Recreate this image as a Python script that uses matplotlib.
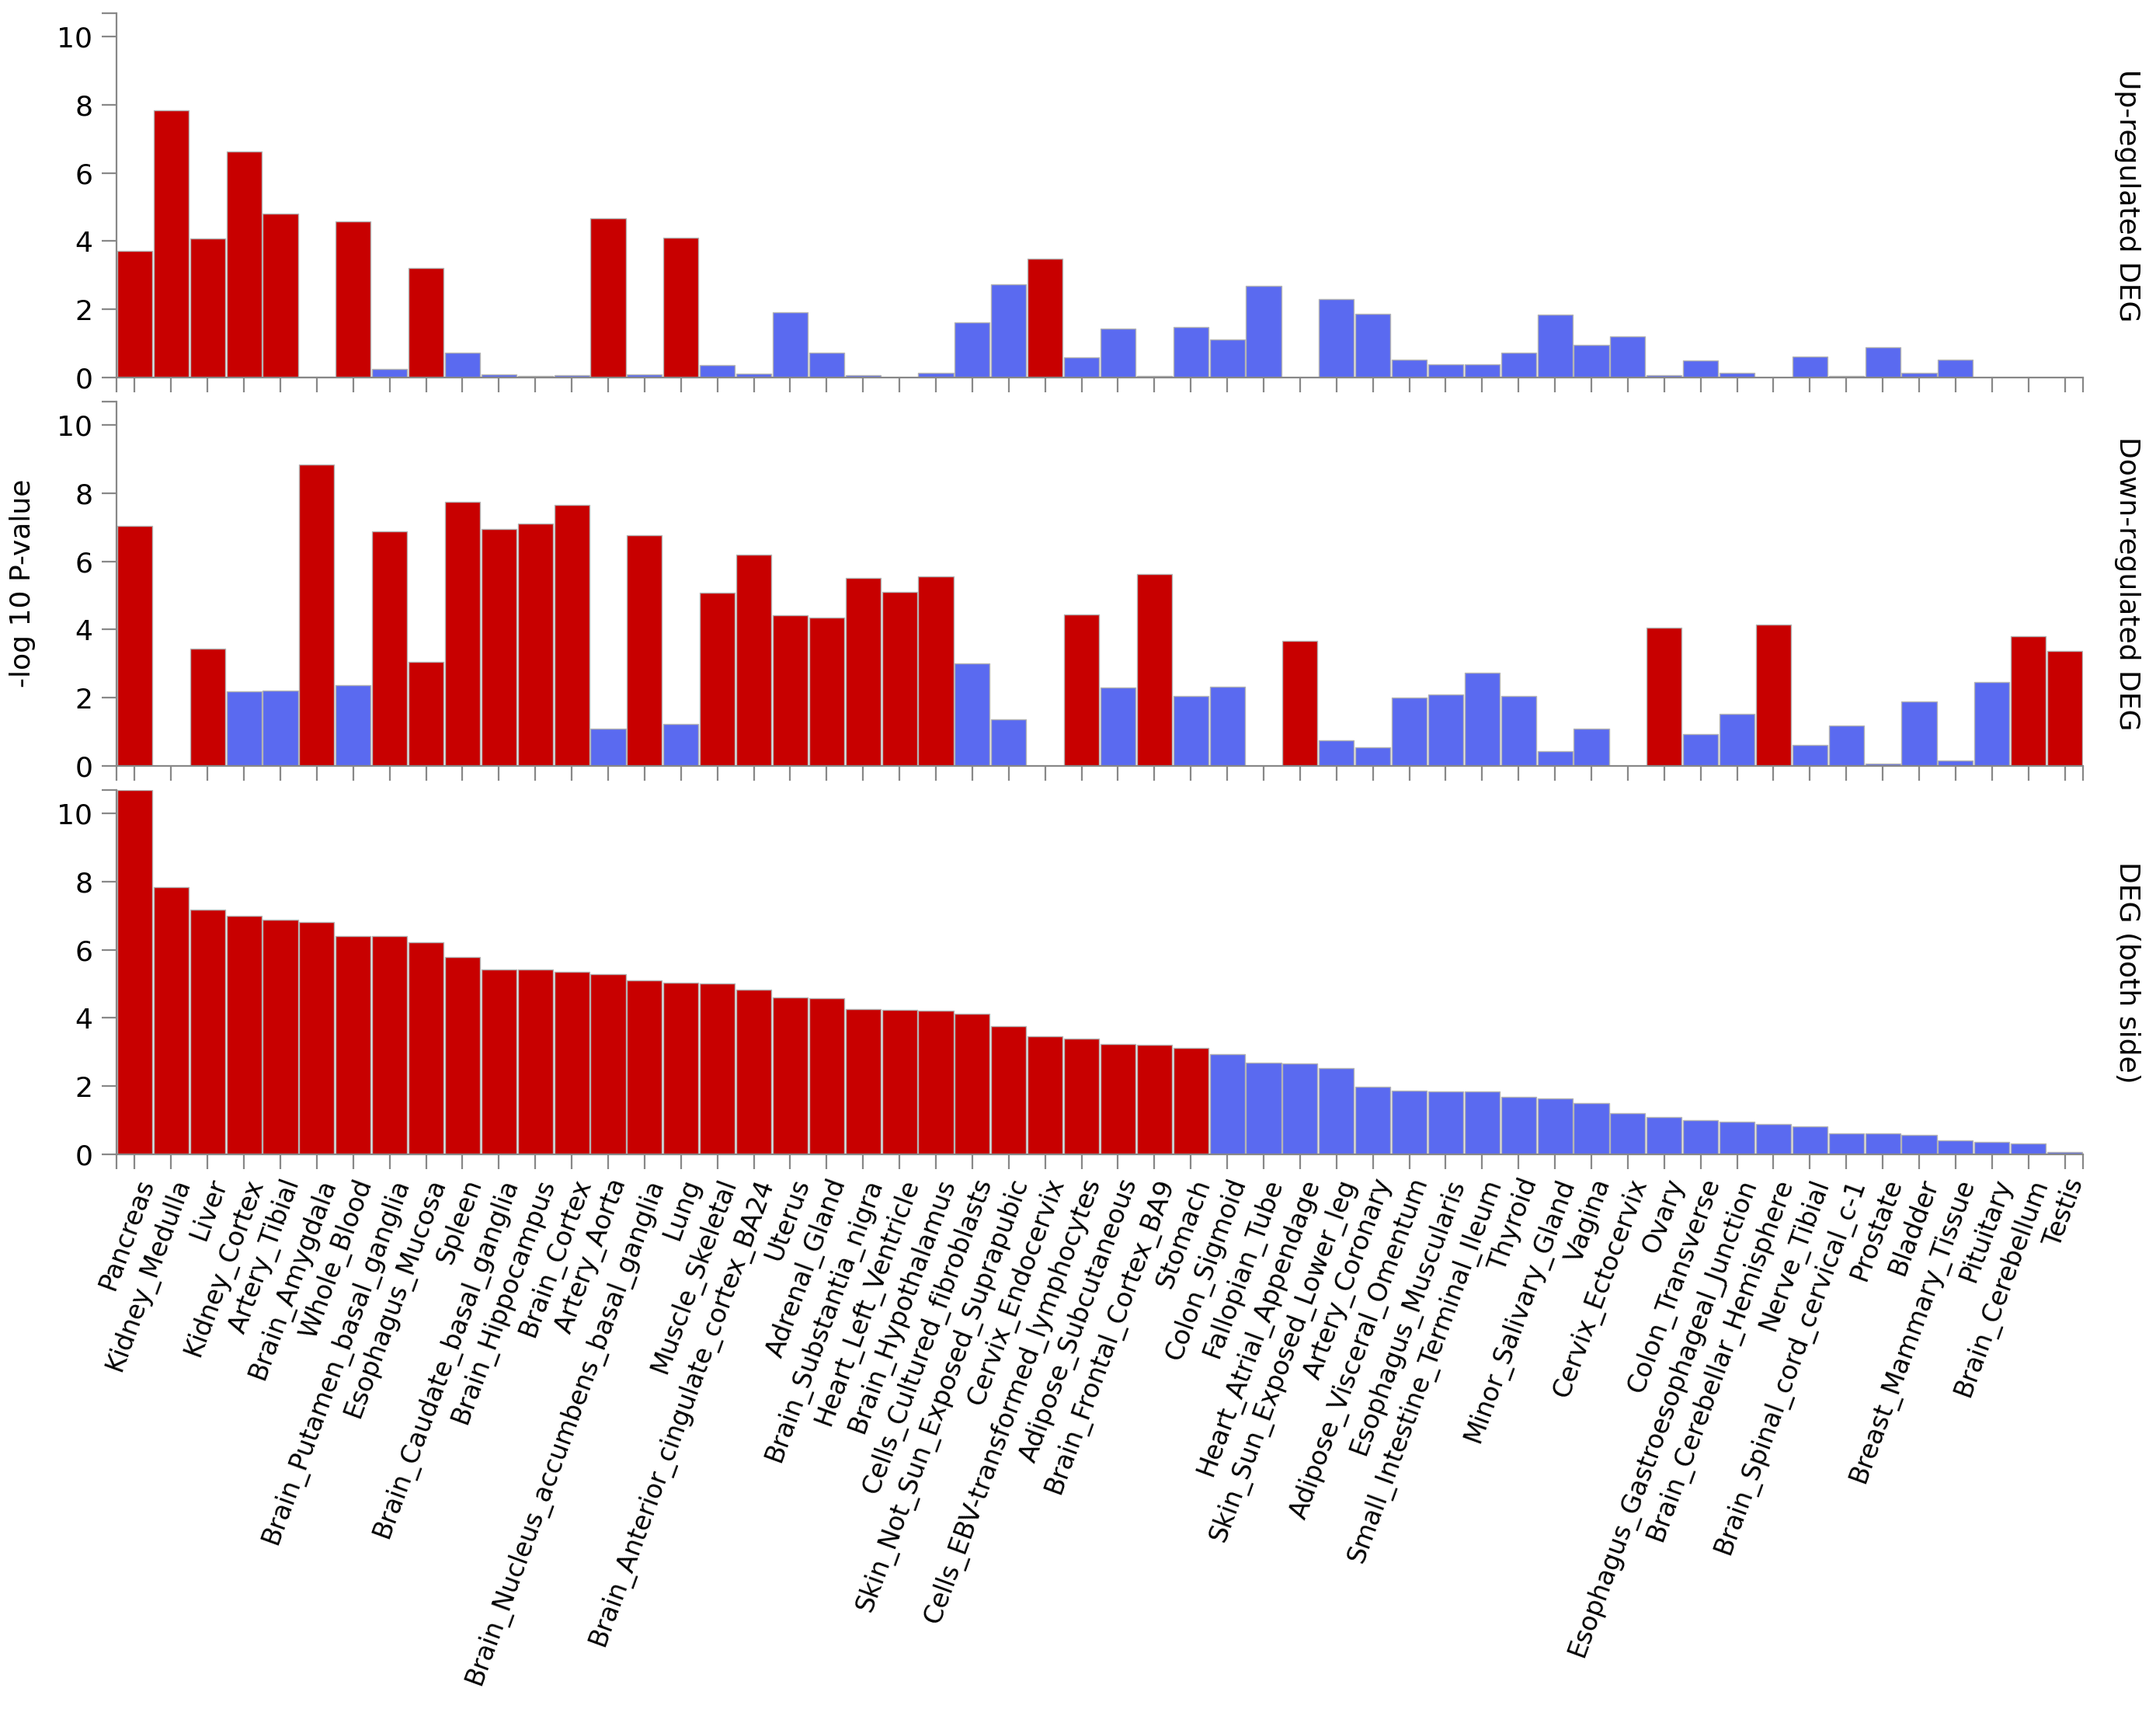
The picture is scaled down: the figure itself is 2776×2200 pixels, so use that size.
import numpy as np
import matplotlib
matplotlib.use("Agg")
import matplotlib.pyplot as plt

tissues = [
    "Pancreas", "Kidney_Medulla", "Liver", "Kidney_Cortex", "Artery_Tibial",
    "Brain_Amygdala", "Whole_Blood", "Brain_Putamen_basal_ganglia", "Esophagus_Mucosa",
    "Spleen", "Brain_Caudate_basal_ganglia", "Brain_Hippocampus", "Brain_Cortex",
    "Artery_Aorta", "Brain_Nucleus_accumbens_basal_ganglia", "Lung", "Muscle_Skeletal",
    "Brain_Anterior_cingulate_cortex_BA24", "Uterus", "Adrenal_Gland",
    "Brain_Substantia_nigra", "Heart_Left_Ventricle", "Brain_Hypothalamus",
    "Cells_Cultured_fibroblasts", "Skin_Not_Sun_Exposed_Suprapubic", "Cervix_Endocervix",
    "Cells_EBV-transformed_lymphocytes", "Adipose_Subcutaneous", "Brain_Frontal_Cortex_BA9",
    "Stomach", "Colon_Sigmoid", "Fallopian_Tube", "Heart_Atrial_Appendage",
    "Skin_Sun_Exposed_Lower_leg", "Artery_Coronary", "Adipose_Visceral_Omentum",
    "Esophagus_Muscularis", "Small_Intestine_Terminal_Ileum", "Thyroid",
    "Minor_Salivary_Gland", "Vagina", "Cervix_Ectocervix", "Ovary", "Colon_Transverse",
    "Esophagus_Gastroesophageal_Junction", "Brain_Cerebellar_Hemisphere", "Nerve_Tibial",
    "Brain_Spinal_cord_cervical_c-1", "Prostate", "Bladder", "Breast_Mammary_Tissue",
    "Pituitary", "Brain_Cerebellum", "Testis",
]

# -log10 p-values
up_deg = [
    3.72, 7.83, 4.07, 6.63, 4.80, 0.02, 4.57, 0.25, 3.21, 0.73,
    0.09, 0.04, 0.07, 4.66, 0.09, 4.09, 0.36, 0.11, 1.92, 0.74,
    0.06, 0.0, 0.13, 1.61, 2.74, 3.48, 0.59, 1.44, 0.04, 1.47,
    1.12, 2.69, 0.0, 2.29, 1.86, 0.52, 0.39, 0.39, 0.73, 1.84,
    0.96, 1.21, 0.07, 0.49, 0.14, 0.0, 0.62, 0.05, 0.88, 0.13,
    0.52, 0.0, 0.0, 0.0,
]
down_deg = [
    7.03, 0.0, 3.43, 2.19, 2.21, 8.83, 2.36, 6.88, 3.05, 7.74,
    6.94, 7.10, 7.64, 1.10, 6.76, 1.22, 5.07, 6.19, 4.41, 4.36,
    5.52, 5.09, 5.55, 3.00, 1.36, 0.0, 4.45, 2.29, 5.63, 2.04,
    2.32, 0.0, 3.66, 0.76, 0.55, 2.01, 2.10, 2.73, 2.04, 0.44,
    1.09, 0.0, 4.05, 0.93, 1.53, 4.15, 0.61, 1.18, 0.07, 1.88,
    0.16, 2.45, 3.80, 3.38,
]
both_deg = [
    10.68, 7.83, 7.18, 6.98, 6.88, 6.82, 6.40, 6.39, 6.21, 5.78,
    5.43, 5.42, 5.36, 5.28, 5.11, 5.03, 5.00, 4.83, 4.60, 4.57,
    4.25, 4.23, 4.22, 4.12, 3.75, 3.47, 3.39, 3.24, 3.21, 3.12,
    2.93, 2.68, 2.67, 2.53, 1.98, 1.86, 1.84, 1.84, 1.69, 1.64,
    1.50, 1.20, 1.09, 1.00, 0.96, 0.88, 0.81, 0.62, 0.61, 0.56,
    0.40, 0.36, 0.31, 0.07,
]
panel_names = ["Up-regulated DEG", "Down-regulated DEG", "DEG (both side)"]

RED = "#c80000"
BLUE = "#5a6af0"
GREY = "#888888"
cutoff = -np.log10(0.05 / len(tissues))   # bonferroni
ymax = max(max(up_deg), max(down_deg), max(both_deg))

fig = plt.figure(figsize=(27.76, 22), dpi=100)
plt.rcParams["font.family"] = "DejaVu Sans"

left, width = 150 / 2776, 2532 / 2776
tops = [17, 517, 1017]
h = 469 / 2200
x = np.arange(len(tissues))

for i, (vals, name) in enumerate(zip([up_deg, down_deg, both_deg], panel_names)):
    ax = fig.add_axes([left, 1 - (tops[i] + 469) / 2200, width, h])
    vals = np.array(vals)
    cols = [RED if v >= cutoff else BLUE for v in vals]
    ax.bar(x, vals, width=0.96, color=cols, edgecolor="#b4b4b4", linewidth=1.0)

    ax.set_xlim(-0.5, len(tissues) - 0.5)
    ax.set_ylim(0, ymax)
    for s in ["top", "right"]:
        ax.spines[s].set_visible(False)
    for s in ["left", "bottom"]:
        ax.spines[s].set_color(GREY)
        ax.spines[s].set_linewidth(1.6)

    ax.set_yticks([0, 2, 4, 6, 8, 10])
    ax.set_yticks([ymax], minor=True)
    ax.set_xticks(x)
    ax.set_xticks([-0.5, len(tissues) - 0.5], minor=True)
    ax.tick_params(which="both", color=GREY, width=1.6, length=14, labelsize=26)
    ax.tick_params(axis="y", pad=8)

    if i == 2:
        ax.set_xticklabels(tissues, rotation=70, ha="right", va="top",
                           rotation_mode="anchor", fontsize=24)
        ax.tick_params(axis="x", pad=5)
    else:
        ax.set_xticklabels([])

    ax.text(1.0225, 0.5, name, transform=ax.transAxes, rotation=270,
            ha="center", va="center", fontsize=26)

fig.text(29 / 2776, 1 - 751 / 2200, "-log 10 P-value", rotation=90,
         ha="center", va="center", fontsize=26)

fig.savefig("out.png", dpi=100)
